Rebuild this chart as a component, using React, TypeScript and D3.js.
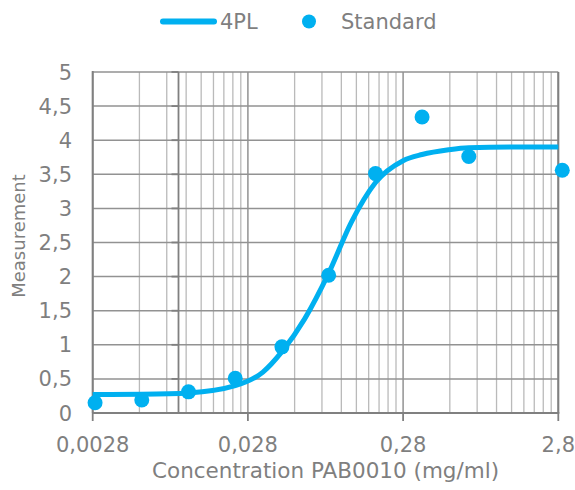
import React from 'react';
import * as d3 from 'd3';

// Standard points (concentration mg/ml, measurement)
const stdConc = [0.0029, 0.0058, 0.0116, 0.0232, 0.0464, 0.0928, 0.186, 0.371, 0.742, 2.97];
const stdMeas = [0.15, 0.19, 0.31, 0.51, 0.97, 2.02, 3.51, 4.34, 3.76, 3.56];

// 4PL fitted curve
const fitConc = [0.0028, 0.0058, 0.0116, 0.0232, 0.035, 0.0464, 0.065, 0.0928, 0.13, 0.186, 0.28, 0.371, 0.55, 0.742, 1.4, 2.8];
const fitMeas = [0.27, 0.275, 0.295, 0.4, 0.6, 0.9, 1.38, 2.05, 2.8, 3.38, 3.7, 3.79, 3.86, 3.89, 3.9, 3.9];

const xMajor = [0.0028, 0.028, 0.28, 2.8];
const xLabels = ['0,0028', '0,028', '0,28', '2,8'];
const yTicks = [0, 0.5, 1, 1.5, 2, 2.5, 3, 3.5, 4, 4.5, 5];
const yCrossAt = 0.01;

const blue = '#00b0f0';
const textColor = '#7f7f7f';
const axisColor = '#808080';
const majorGrid = '#929292';
const minorGrid = '#bababa';

const width = 575;
const height = 490;
const margin = { top: 72, right: 16.7, bottom: 77, left: 92.7 };

export default function App() {
  const x = d3.scaleLog().domain([0.0028, 2.8]).range([margin.left, width - margin.right]);
  const y = d3.scaleLinear().domain([0, 5]).range([height - margin.bottom, margin.top]);

  const minor: number[] = [];
  xMajor.slice(0, -1).forEach(m => {
    for (let k = 2; k <= 9; k++) minor.push(m * k);
  });

  const fit = fitConc.map((c, i) => [c, fitMeas[i]] as [number, number]);
  const line = d3.line<[number, number]>()
    .x(d => x(d[0]))
    .y(d => y(d[1]))
    .curve(d3.curveMonotoneX);

  const fmt = (v: number) => String(v).replace('.', ',');
  const [x0, x1] = x.range();
  const [y0, y1] = y.range();

  return (
    <svg width={width} height={height} style={{ position: 'absolute', left: 0, top: 0 }}
      fontFamily="'DejaVu Sans', Verdana, sans-serif">
      <rect width={width} height={height} fill="#fff" />

      {/* minor vertical grid */}
      {minor.map(v => (
        <line key={'mn' + v} x1={x(v)} x2={x(v)} y1={y1} y2={y0} stroke={minorGrid} strokeWidth={1.3} />
      ))}
      {/* major vertical grid */}
      {xMajor.map(v => (
        <line key={'mj' + v} x1={x(v)} x2={x(v)} y1={y1} y2={y0} stroke={majorGrid} strokeWidth={1.5} />
      ))}
      {/* horizontal grid */}
      {yTicks.map(t => (
        <line key={'h' + t} x1={x0} x2={x1} y1={y(t)} y2={y(t)} stroke={majorGrid} strokeWidth={1.5} />
      ))}

      {/* axis lines */}
      <line x1={x0} x2={x0} y1={y1 - 1} y2={y0} stroke={axisColor} strokeWidth={2} />
      <line x1={x0} x2={x1 + 1} y1={y0} y2={y0} stroke={axisColor} strokeWidth={2} />
      <line x1={x1} x2={x1} y1={y1} y2={y0} stroke={axisColor} strokeWidth={2} />
      <line x1={x(yCrossAt)} x2={x(yCrossAt)} y1={y1} y2={y0} stroke={axisColor} strokeWidth={1.8} />
      {yTicks.map(t => (
        <line key={'yt' + t} x1={x(yCrossAt) - 7} x2={x(yCrossAt)} y1={y(t)} y2={y(t)} stroke={axisColor} strokeWidth={1.8} />
      ))}
      {xMajor.map(v => (
        <line key={'xt' + v} x1={x(v)} x2={x(v)} y1={y0} y2={y0 + 8} stroke={axisColor} strokeWidth={1.8} />
      ))}

      {/* tick labels */}
      {yTicks.map(t => (
        <text key={'yl' + t} x={72} y={y(t)} dy="0.36em" textAnchor="end" fontSize={21} fill={textColor}>{fmt(t)}</text>
      ))}
      {xMajor.map((v, i) => (
        <text key={'xl' + v} x={x(v)} y={452} textAnchor="middle" fontSize={21} fill={textColor}>{xLabels[i]}</text>
      ))}

      {/* fit curve */}
      <path d={line(fit) || ''} fill="none" stroke={blue} strokeWidth={5} strokeLinejoin="round" />

      {/* standard points */}
      {stdConc.map((c, i) => (
        <circle key={'p' + i} cx={x(c)} cy={y(stdMeas[i])} r={7.5} fill={blue} />
      ))}

      {/* axis titles */}
      <text x={(x0 + x1) / 2} y={478} textAnchor="middle" fontSize={21.5} fill={textColor}>
        Concentration PAB0010 (mg/ml)
      </text>
      <text transform={`translate(25,236) rotate(-90)`} textAnchor="middle" fontSize={18} fill={textColor}>
        Measurement
      </text>

      {/* legend */}
      <line x1={163} x2={214} y1={21.5} y2={21.5} stroke={blue} strokeWidth={6} strokeLinecap="round" />
      <text x={220} y={28.5} fontSize={21} fill={textColor}>4PL</text>
      <circle cx={309} cy={21.5} r={7} fill={blue} />
      <text x={341} y={28.5} fontSize={21} fill={textColor}>Standard</text>
    </svg>
  );
}
